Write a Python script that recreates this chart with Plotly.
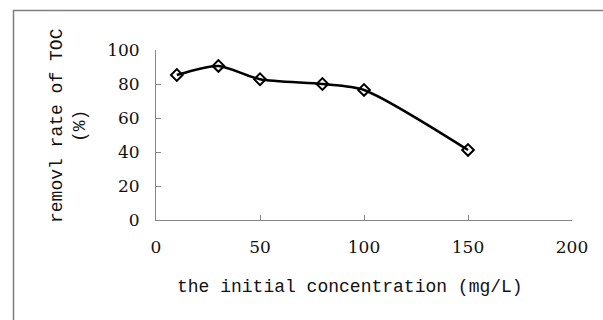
import plotly.graph_objects as go

concentration = [10, 30, 50, 80, 100, 150]
removal_rate = [85.3, 90.6, 82.8, 80.0, 76.5, 41.2]
x_ticks = [0, 50, 100, 150, 200]
y_ticks = [0, 20, 40, 60, 80, 100]

W, H = 603, 320
L, R, T, B = 156, 31, 50, 100
pw, ph = W - L - R, H - T - B

def px_x(p):
    return (p - L) / pw

def px_y(p):
    return (H - B - p) / ph

fig = go.Figure()
fig.add_trace(go.Scatter(
    x=concentration, y=removal_rate, mode="lines+markers",
    line=dict(color="black", width=2.5, shape="spline", smoothing=0.7),
    marker=dict(symbol="diamond-open", size=9, color="black", line=dict(width=2, color="black")),
    showlegend=False,
))

axis_common = dict(
    showline=True, linecolor="#868686", linewidth=1,
    ticks="inside", ticklen=5, tickcolor="#868686", tickwidth=1,
    showgrid=False, zeroline=False,
    tickfont=dict(family="DejaVu Serif", size=17, color="#111"),
)
fig.update_xaxes(range=[0, 200], tickvals=x_ticks, ticklabelstandoff=12, **axis_common)
fig.update_yaxes(range=[0, 100], tickvals=y_ticks, ticklabelstandoff=12, **axis_common)

fig.add_shape(type="rect", xref="paper", yref="paper",
              x0=px_x(13.5), x1=px_x(615), y0=px_y(10.5), y1=px_y(335),
              line=dict(color="#7f7f7f", width=1.5))

fig.add_annotation(xref="paper", yref="paper", x=px_x(350), y=px_y(287),
                   text="the initial concentration (mg/L)", showarrow=False,
                   font=dict(family="Liberation Mono", size=18, color="#111"),
                   xanchor="center", yanchor="middle")
fig.add_annotation(xref="paper", yref="paper", x=px_x(68), y=px_y(126),
                   text="removl rate of TOC<br>(%)", showarrow=False, textangle=-90,
                   font=dict(family="Liberation Mono", size=18, color="#111"),
                   xanchor="center", yanchor="middle")

fig.update_layout(
    width=W, height=H, margin=dict(l=L, r=R, t=T, b=B),
    paper_bgcolor="white", plot_bgcolor="white",
)
fig.write_html("out.html")
